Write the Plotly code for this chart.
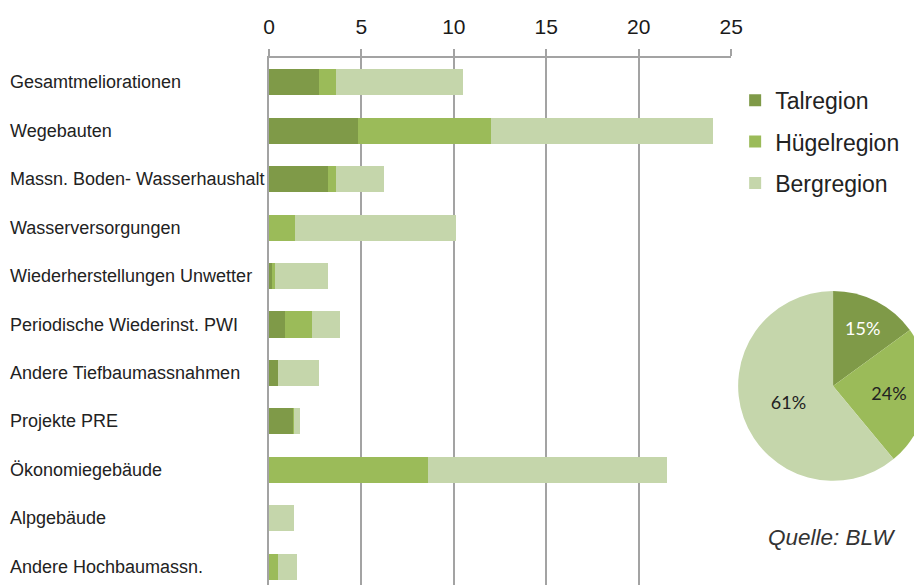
import plotly.graph_objects as go

categories = ["Gesamtmeliorationen", "Wegebauten", "Massn. Boden- Wasserhaushalt",
              "Wasserversorgungen", "Wiederherstellungen Unwetter",
              "Periodische Wiederinst. PWI", "Andere Tiefbaumassnahmen",
              "Projekte PRE", "Ökonomiegebäude", "Alpgebäude", "Andere Hochbaumassn."]
tal = [2.7, 4.8, 3.2, 0.0, 0.15, 0.85, 0.5, 1.3, 0.0, 0.0, 0.0]
huegel = [0.9, 7.2, 0.4, 1.4, 0.15, 1.5, 0.0, 0.05, 8.6, 0.0, 0.5]
berg = [6.9, 12.0, 2.6, 8.7, 2.9, 1.5, 2.2, 0.3, 12.95, 1.37, 1.0]
series_names = ["Talregion", "Hügelregion", "Bergregion"]
pie_shares = [15, 24, 61]
x_ticks = [0, 5, 10, 15, 20, 25]

colors = ["#7F9A48", "#9BBB59", "#C5D6AB"]

# the page body adds an 8px offset; all pixel targets below are in figure coords
W, H = 922, 585
ML, MT, MB = 260.5, 50.3, 2
PW, PH = W - ML, H - MT - MB
X25 = 723


def fx(px):
    return (px - ML) / PW


def fy(py):
    return (H - MB - py) / PH


fig = go.Figure()
for name, vals, col in zip(series_names, [tal, huegel, berg], colors):
    fig.add_trace(go.Bar(
        y=categories, x=vals, name=name, orientation="h",
        marker=dict(color=col, line=dict(width=0)),
        legendgroup=name, hoverinfo="x+name",
    ))

# pie
cx, cy, r = 825, 378, 95
fig.add_trace(go.Pie(
    values=pie_shares, labels=series_names, sort=False, direction="clockwise",
    rotation=0, marker=dict(colors=colors, line=dict(width=0)),
    textinfo="percent", textposition="inside", insidetextorientation="horizontal",
    textfont=dict(family="Lato", size=18, color=["#FFFFFF", "#222222", "#222222"]),
    domain=dict(x=[fx(cx - r), min(1.0, fx(cx + r))], y=[fy(cy + r), fy(cy - r)]),
    showlegend=False, hoverinfo="label+percent",
))

annotations = []
for c in categories:
    annotations.append(dict(
        x=fx(-1), xref="paper", y=c, yref="y", text=c, showarrow=False,
        xanchor="left", yanchor="middle",
        font=dict(family="Liberation Sans", size=18, color="#222222"),
    ))
annotations.append(dict(
    x=fx(823), xref="paper", y=fy(530), yref="paper", text="<i>Quelle: BLW</i>",
    showarrow=False, xanchor="center", yanchor="middle",
    font=dict(family="Liberation Sans", size=22.5, color="#333333"),
))

grid = "#A3A3A3"
fig.update_layout(
    width=W, height=H,
    margin=dict(l=ML, r=0, t=MT, b=MB, autoexpand=False),
    paper_bgcolor="white", plot_bgcolor="white",
    barmode="stack", bargap=0.463,
    showlegend=True,
    legend=dict(
        x=fx(727), y=fy(71), xanchor="left", yanchor="top",
        font=dict(family="Liberation Sans", size=23, color="#222222"),
        traceorder="grouped", tracegroupgap=8.5, bgcolor="rgba(0,0,0,0)",
    ),
    xaxis=dict(
        domain=[0, fx(X25)], range=[0, 25], side="top",
        tickvals=x_ticks, ticktext=[str(t) for t in x_ticks],
        showgrid=True, gridcolor=grid, gridwidth=1.5, zeroline=False,
        showline=True, linecolor=grid, linewidth=1.5,
        ticks="outside", ticklen=7, tickcolor=grid, tickwidth=1.5,
        ticklabelstandoff=7,
        tickfont=dict(family="Liberation Sans", size=21, color="#1A1A1A"),
        fixedrange=True,
    ),
    yaxis=dict(
        range=[10.5, -0.5], showticklabels=False, ticks="",
        showgrid=False, zeroline=False,
        showline=True, linecolor=grid, linewidth=1.5,
        fixedrange=True,
    ),
    annotations=annotations,
)

fig.write_html("out.html")
